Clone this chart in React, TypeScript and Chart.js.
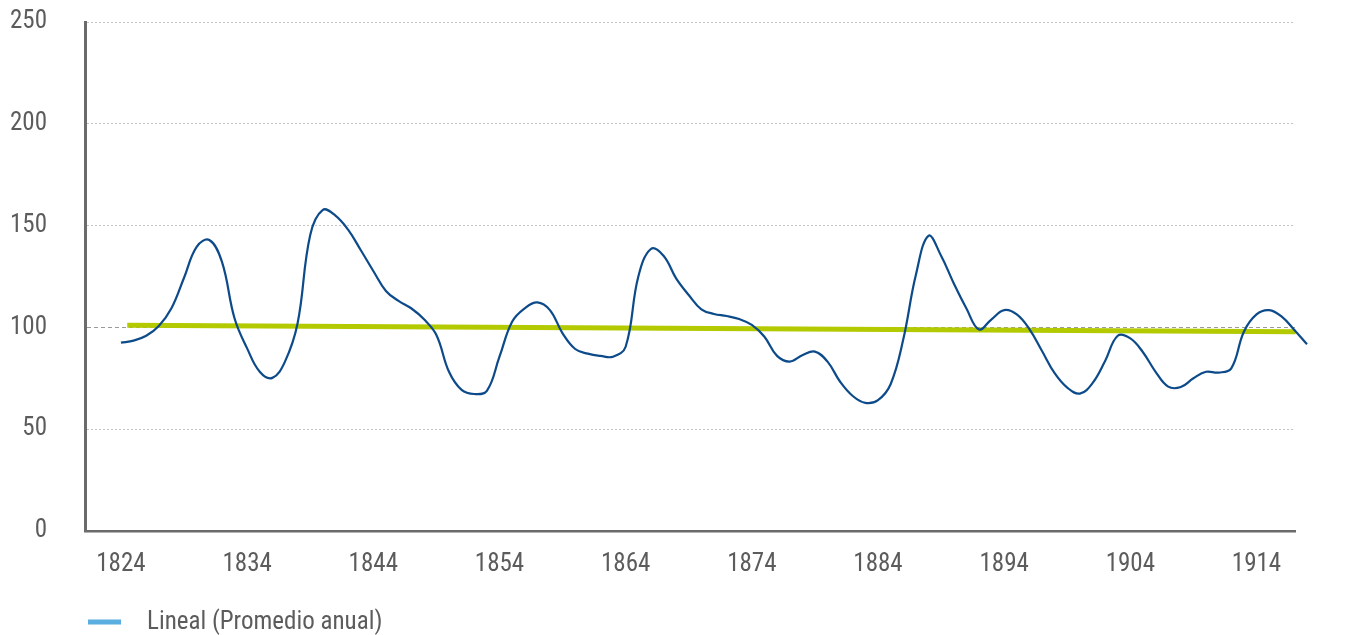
import React, { useEffect, useRef } from "react";
import { Chart, registerables } from "chart.js";

Chart.register(...registerables);

// Years (one value per year)
const years = [
  1824, 1825, 1826, 1827, 1828, 1829, 1830, 1831, 1832, 1833,
  1834, 1835, 1836, 1837, 1838, 1839, 1840, 1841, 1842, 1843,
  1844, 1845, 1846, 1847, 1848, 1849, 1850, 1851, 1852, 1853,
  1854, 1855, 1856, 1857, 1858, 1859, 1860, 1861, 1862, 1863,
  1864, 1865, 1866, 1867, 1868, 1869, 1870, 1871, 1872, 1873,
  1874, 1875, 1876, 1877, 1878, 1879, 1880, 1881, 1882, 1883,
  1884, 1885, 1886, 1887, 1888, 1889, 1890, 1891, 1892, 1893,
  1894, 1895, 1896, 1897, 1898, 1899, 1900, 1901, 1902, 1903,
  1904, 1905, 1906, 1907, 1908, 1909, 1910, 1911, 1912, 1913,
  1914, 1915, 1916, 1917, 1918,
];

// Promedio anual
const promedioAnual = [
  92.5, 93.5, 95.9, 100.7, 109.4, 124.4, 139.6, 142.9, 132.3, 104.5,
  89.7, 78.2, 75.2, 83.2, 102, 145.4, 157.7, 154.9, 148, 138,
  127.7, 117.9, 113, 109.4, 104.1, 96.3, 78.2, 69.3, 67.3, 68.8,
  85.6, 102.8, 109.4, 112.3, 108.5, 97.1, 89.4, 87.1, 86.0, 85.6,
  90.5, 124.9, 138.5, 135.2, 124.1, 115.9, 108.9, 106.6, 105.6, 104.1,
  101.2, 95.4, 86.0, 83.2, 86.3, 88.1, 83.2, 73.3, 66.3, 62.9,
  64.3, 72.1, 94, 125.7, 145, 135.2, 121.7, 109.4, 99, 104,
  108.5, 106.4, 99.2, 88.4, 77.5, 70.4, 67.5, 72.6, 83.5, 95.9,
  94.6, 87.8, 78.2, 70.9, 70.7, 75, 78.2, 77.8, 79.9, 97.9,
  106.4, 108.5, 105.3, 98.7, 91.7,
];

// Linear trend (Lineal (Promedio anual))
const trendYears = [1824.5, 1917.1];
const trendValues = [101.0, 97.9];

const xTickYears = [1824, 1834, 1844, 1854, 1864, 1874, 1884, 1894, 1904, 1914];
const yTickValues = [0, 50, 100, 150, 200, 250];
const legendLabel = "Lineal (Promedio anual)";

const FONT =
  "'Roboto Condensed', 'Liberation Sans Narrow', 'DejaVu Sans Condensed', 'Roboto', sans-serif";
const TEXT_COLOR = "#5c5c5c";

export default function App() {
  const ref = useRef<HTMLCanvasElement>(null);

  useEffect(() => {
    const canvas = ref.current;
    if (!canvas) return;

    const legendPlugin = {
      id: "bottomLegend",
      afterDraw(chart: any) {
        const { ctx, chartArea } = chart;
        const x0 = chartArea.left + 3;
        const y0 = chart.height - 13;
        ctx.save();
        ctx.strokeStyle = "#5aaee0";
        ctx.lineWidth = 5;
        ctx.beginPath();
        ctx.moveTo(x0, y0);
        ctx.lineTo(x0 + 33, y0);
        ctx.stroke();
        ctx.fillStyle = TEXT_COLOR;
        ctx.font = `25px ${FONT}`;
        ctx.textBaseline = "middle";
        ctx.textAlign = "left";
        ctx.fillText(legendLabel, x0 + 59, y0 + 1);
        ctx.restore();
      },
    };

    const chart = new Chart(canvas, {
      type: "line",
      data: {
        datasets: [
          {
            label: "Promedio anual",
            data: promedioAnual.map((v, i) => ({ x: years[i], y: v })),
            borderColor: "#0c4a8a",
            borderWidth: 2.2,
            pointRadius: 0,
            tension: 0.4,
            fill: false,
            clip: false as any,
          },
          {
            label: legendLabel,
            data: trendValues.map((v, i) => ({ x: trendYears[i], y: v })),
            borderColor: "#b3c900",
            borderWidth: 5,
            pointRadius: 0,
            tension: 0,
            fill: false,
            clip: false as any,
          },
        ],
      },
      options: {
        responsive: false,
        animation: false,
        layout: { padding: { left: 0, right: 50, top: 22, bottom: 0 } },
        plugins: {
          legend: { display: false },
          tooltip: { enabled: false },
        },
        scales: {
          x: {
            type: "linear",
            min: 1821.15,
            max: 1917.05,
            afterBuildTicks: (s: any) => {
              s.ticks = xTickYears.map((v) => ({ value: v }));
            },
            afterFit: (s: any) => {
              s.height = 104;
            },
            ticks: {
              autoSkip: false,
              maxRotation: 0,
              padding: 19,
              color: TEXT_COLOR,
              font: { family: FONT, size: 25 },
              callback: (v: any) => String(v),
            },
            grid: { display: false, drawTicks: false },
            border: { display: true, color: "#6b6b6b", width: 2.5 },
          },
          y: {
            min: 0,
            max: 250,
            afterBuildTicks: (s: any) => {
              s.ticks = yTickValues.map((v) => ({ value: v }));
            },
            afterFit: (s: any) => {
              s.width = 85;
              s.paddingTop = 0;
              s.paddingBottom = 0;
            },
            ticks: {
              padding: 38,
              color: TEXT_COLOR,
              font: { family: FONT, size: 25 },
              callback: (v: any) => String(v),
            },
            grid: {
              drawTicks: false,
              color: (c: any) => (c.tick && c.tick.value === 100 ? "#9a9a9a" : "#c4c4c4"),
              lineWidth: 1,
            },
            border: {
              display: true,
              color: "#6b6b6b",
              width: 3,
              dash: (c: any) => (c.tick && c.tick.value === 100 ? [4, 3] : [2, 2]),
            } as any,
          },
        },
      },
      plugins: [legendPlugin],
    });

    return () => chart.destroy();
  }, []);

  return (
    <div style={{ position: "fixed", left: 0, top: 0, width: 1345, height: 635, background: "#fff" }}>
      <canvas ref={ref} width={1345} height={635} style={{ display: "block" }} />
    </div>
  );
}
